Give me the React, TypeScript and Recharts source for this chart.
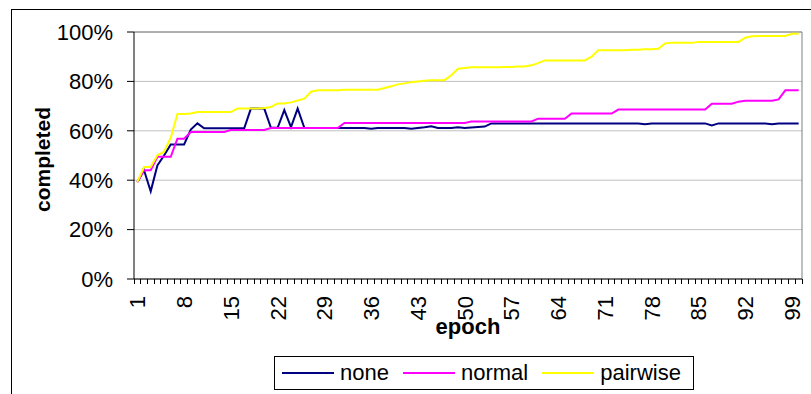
import {
  CartesianGrid,
  Legend,
  Line,
  LineChart,
  ReferenceLine,
  XAxis,
  YAxis,
} from "recharts";

const FONT = '"Liberation Sans", Arial, sans-serif';

// Porcentaje de tareas completadas por época (1..100)
const none = [
  39.3, 44, 35.5, 46, 50, 54.5, 54.5, 54.5, 60.5, 63,
  61, 61, 61, 61, 61, 61, 61, 69, 69, 69,
  61.2, 61.2, 68.4, 61.5, 69, 61.2, 61.1, 61.1, 61.1, 61.1,
  61.1, 61.1, 61.1, 61.1, 61.1, 60.8, 61.1, 61.1, 61.1, 61.1,
  61.1, 60.8, 61.1, 61.4, 61.8, 61.1, 61.1, 61.1, 61.4, 61.1,
  61.3, 61.5, 61.7, 63, 63, 63, 63, 63, 63, 63,
  63, 63, 63, 63, 63, 63, 63, 63, 63, 63,
  63, 63, 63, 63, 63, 63, 62.7, 63, 63, 63,
  63, 63, 63, 63, 63, 63, 62.2, 63, 63, 63,
  63, 63, 63, 63, 63, 62.7, 63, 63, 63, 63,
];

const normal = [
  39.3, 44, 44, 49.5, 49.5, 49.5, 56.8, 56.8, 59.5, 59.5,
  59.5, 59.5, 59.5, 59.5, 60.3, 60.3, 60.3, 60.3, 60.3, 60.3,
  61.1, 61.1, 61.1, 61.1, 61.1, 61.1, 61.1, 61.1, 61.1, 61.1,
  61.1, 63.2, 63.2, 63.2, 63.2, 63.2, 63.2, 63.2, 63.2, 63.2,
  63.2, 63.2, 63.2, 63.2, 63.2, 63.2, 63.2, 63.2, 63.2, 63.2,
  63.8, 63.8, 63.8, 63.8, 63.8, 63.8, 63.8, 63.8, 63.8, 63.8,
  64.9, 64.9, 64.9, 64.9, 64.9, 67, 67, 67, 67, 67,
  67, 67, 68.6, 68.6, 68.6, 68.6, 68.6, 68.6, 68.6, 68.6,
  68.6, 68.6, 68.6, 68.6, 68.6, 68.6, 71, 71, 71, 71,
  71.8, 72.2, 72.2, 72.2, 72.2, 72.2, 72.7, 76.4, 76.4, 76.4,
];

const pairwise = [
  39.3, 45.3, 45.3, 50.1, 51.5, 57.2, 66.8, 66.8, 67, 67.6,
  67.6, 67.6, 67.6, 67.6, 67.6, 69, 69, 69, 69, 69.2,
  69.6, 71.1, 71.1, 71.5, 72.3, 73, 75.8, 76.4, 76.4, 76.4,
  76.4, 76.6, 76.6, 76.6, 76.6, 76.6, 76.6, 77.3, 78, 78.8,
  79.2, 79.7, 80, 80.3, 80.5, 80.5, 80.5, 82.5, 85.1, 85.4,
  85.7, 85.7, 85.7, 85.7, 85.7, 85.8, 85.8, 86, 86, 86.5,
  87.4, 88.5, 88.5, 88.5, 88.5, 88.5, 88.5, 88.5, 90, 92.6,
  92.6, 92.6, 92.6, 92.6, 92.8, 92.8, 93, 93, 93.2, 95.4,
  95.6, 95.6, 95.6, 95.6, 96, 96, 96, 96, 96, 96,
  96, 97.7, 98.3, 98.4, 98.4, 98.4, 98.4, 98.4, 99.3, 99.3,
];

const epochLabels = [1, 8, 15, 22, 29, 36, 43, 50, 57, 64, 71, 78, 85, 92, 99];
const percentTicks = [0, 20, 40, 60, 80, 100];

const data = none.map((v, i) => ({
  epoch: i + 1,
  none: v,
  normal: normal[i],
  pairwise: pairwise[i],
}));

// marcas del eje X en los bordes de cada categoría; las etiquetas van al centro
const categoryEdges = Array.from({ length: data.length + 1 }, (_, i) => i + 0.5);
const xDomain = [0.5, data.length + 0.5];

function EpochTick({ x, y, width, payload }: any) {
  const epoch = payload.value + 0.5;
  const cx = x + width / data.length / 2;
  const ty = y + 17;
  return (
    <g>
      <line x1={x} y1={y} x2={x} y2={y + 5} stroke="#000" strokeWidth={1} shapeRendering="crispEdges" />
      {epochLabels.includes(epoch) && (
        <text
          x={cx}
          y={ty}
          transform={`rotate(-90 ${cx} ${ty})`}
          textAnchor="end"
          dy="0.36em"
          fontSize={22}
          fontFamily={FONT}
          fill="#000"
        >
          {epoch}
        </text>
      )}
    </g>
  );
}

function LegendBox({ payload }: any) {
  return (
    <div
      style={{
        boxSizing: "border-box",
        width: 420,
        height: 34,
        border: "1px solid #000",
        background: "#fff",
        display: "flex",
        alignItems: "center",
        paddingLeft: 7,
        fontFamily: FONT,
        fontSize: 22,
        color: "#000",
      }}
    >
      {(payload ?? []).map((p: any) => (
        <div key={p.value} style={{ display: "flex", alignItems: "center", marginRight: 14 }}>
          <span style={{ display: "inline-block", width: 52, height: 2, background: p.color, marginRight: 6 }} />
          <span>{p.value}</span>
        </div>
      ))}
    </div>
  );
}

export default function App() {
  return (
    <div
      style={{
        position: "absolute",
        left: 0,
        top: 0,
        width: 811,
        height: 394,
        overflow: "hidden",
        background: "#fff",
      }}
    >
      <div
        style={{
          position: "absolute",
          left: 11,
          top: 9,
          width: 900,
          height: 500,
          border: "1px solid #000",
        }}
      />
      <div style={{ position: "absolute", left: 0, top: 0 }}>
        <LineChart
          width={811}
          height={394}
          data={data}
          margin={{ top: 32, right: 9, left: 0, bottom: 0 }}
        >
          <CartesianGrid horizontal vertical={false} stroke="#c0c0c0" />
          <XAxis
            dataKey="epoch"
            type="number"
            domain={xDomain}
            allowDataOverflow
            ticks={categoryEdges}
            interval={0}
            tick={<EpochTick />}
            tickSize={0}
            tickMargin={0}
            tickLine={false}
            height={115}
            axisLine={{ stroke: "#000" }}
            label={{
              content: ({ viewBox }: any) => (
                <text
                  x={viewBox.x + viewBox.width / 2}
                  y={viewBox.y + 55}
                  textAnchor="middle"
                  fontSize={22}
                  fontWeight="bold"
                  fontFamily={FONT}
                  fill="#000"
                >
                  epoch
                </text>
              ),
            }}
          />
          <YAxis
            domain={[0, 100]}
            ticks={percentTicks}
            tickFormatter={(v: number) => `${v}%`}
            width={134}
            tickSize={7}
            tickMargin={14}
            tick={{ fontSize: 22, fontFamily: FONT, fill: "#000" }}
            axisLine={{ stroke: "#000" }}
            tickLine={{ stroke: "#000" }}
            label={{
              content: ({ viewBox }: any) => {
                const cx = viewBox.x + 42;
                const cy = viewBox.y + viewBox.height / 2 + 4;
                return (
                  <text
                    x={cx}
                    y={cy}
                    transform={`rotate(-90 ${cx} ${cy})`}
                    textAnchor="middle"
                    dy="0.36em"
                    fontSize={21}
                    fontWeight="bold"
                    fontFamily={FONT}
                    fill="#000"
                  >
                    completed
                  </text>
                );
              },
            }}
          />
          <ReferenceLine y={100} stroke="#808080" />
          <ReferenceLine x={data.length + 0.5} stroke="#808080" />
          <Line type="linear" dataKey="none" stroke="#000080" strokeWidth={2} dot={false} isAnimationActive={false} />
          <Line type="linear" dataKey="normal" stroke="#ff00ff" strokeWidth={2} dot={false} isAnimationActive={false} />
          <Line type="linear" dataKey="pairwise" stroke="#ffff00" strokeWidth={2} dot={false} isAnimationActive={false} />
          <Legend
            layout="vertical"
            align="center"
            verticalAlign="middle"
            content={<LegendBox />}
            wrapperStyle={{ position: "absolute", left: 274, top: 356, width: 420, height: 34 }}
          />
        </LineChart>
      </div>
    </div>
  );
}
